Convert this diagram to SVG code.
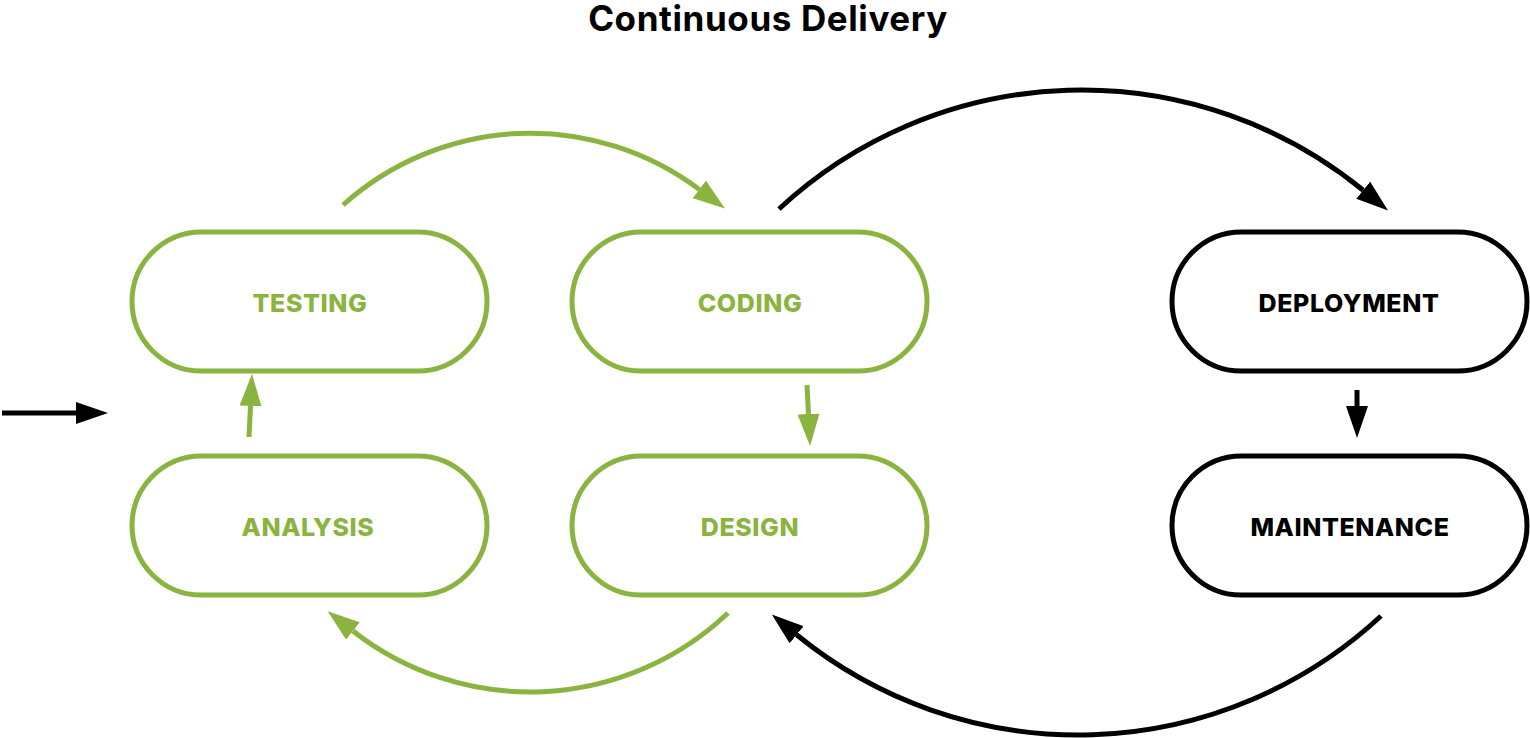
<svg xmlns="http://www.w3.org/2000/svg" width="1530" height="738" viewBox="0 0 1530 738">
<style>
.g{fill:#fff;stroke:#8AB43F;stroke-width:5}
.b{fill:#fff;stroke:#000;stroke-width:5}
.gl{fill:none;stroke:#8AB43F;stroke-width:5}
.bl{fill:none;stroke:#000;stroke-width:5}
.t{font-family:Inter,"Open Sans",sans-serif;font-weight:800;font-size:25px;letter-spacing:0.6px;text-anchor:middle}
.tg{fill:#8AB43F}
.tb{fill:#000}
.title{font-family:Inter,"Open Sans",sans-serif;font-weight:700;font-size:35px;letter-spacing:0.6px;text-anchor:middle;fill:#000}
</style>
<defs>
<marker id="ag" markerUnits="userSpaceOnUse" markerWidth="32" markerHeight="22" refX="0" refY="11" orient="auto"><path d="M0,0 L32,11 L0,22 z" fill="#8AB43F"/></marker>
<marker id="ab" markerUnits="userSpaceOnUse" markerWidth="32" markerHeight="22" refX="0" refY="11" orient="auto"><path d="M0,0 L32,11 L0,22 z" fill="#000"/></marker>
</defs>
<text class="title" x="768" y="31">Continuous Delivery</text>
<g id="testing"><rect class="g" x="132" y="232" width="355" height="139" rx="69.5"/><text class="t tg" x="310" y="312">TESTING</text></g>
<g id="coding"><rect class="g" x="572" y="232" width="355" height="139" rx="69.5"/><text class="t tg" x="750" y="312">CODING</text></g>
<g id="analysis"><rect class="g" x="132" y="456" width="355" height="139" rx="69.5"/><text class="t tg" x="308" y="536">ANALYSIS</text></g>
<g id="design"><rect class="g" x="572" y="456" width="355" height="139" rx="69.5"/><text class="t tg" x="750" y="536">DESIGN</text></g>
<g id="deployment"><rect class="b" x="1172" y="232" width="355" height="139" rx="69.5"/><text class="t tb" x="1349" y="312">DEPLOYMENT</text></g>
<g id="maintenance"><rect class="b" x="1172" y="456" width="355" height="139" rx="69.5"/><text class="t tb" x="1350" y="536">MAINTENANCE</text></g>
<g id="connectors">
<path class="gl" d="M343,205 A281,281 0 0 1 699.3,189.4" marker-end="url(#ag)"/>
<path class="gl" d="M728,613 A287.6,287.6 0 0 1 352.9,631" marker-end="url(#ag)"/>
<path class="bl" d="M779,209 A445,445 0 0 1 1363.2,190.2" marker-end="url(#ab)"/>
<path class="bl" d="M1381,616 A445.3,445.3 0 0 1 796.6,634.8" marker-end="url(#ab)"/>
<path class="gl" d="M807,385 L808.5,414" marker-end="url(#ag)"/>
<path class="gl" d="M249,437 L250.5,406" marker-end="url(#ag)"/>
<path class="bl" d="M1357,390 L1357,406" marker-end="url(#ab)"/>
<path class="bl" d="M2,413 L76,413" marker-end="url(#ab)"/>
</g>
</svg>
